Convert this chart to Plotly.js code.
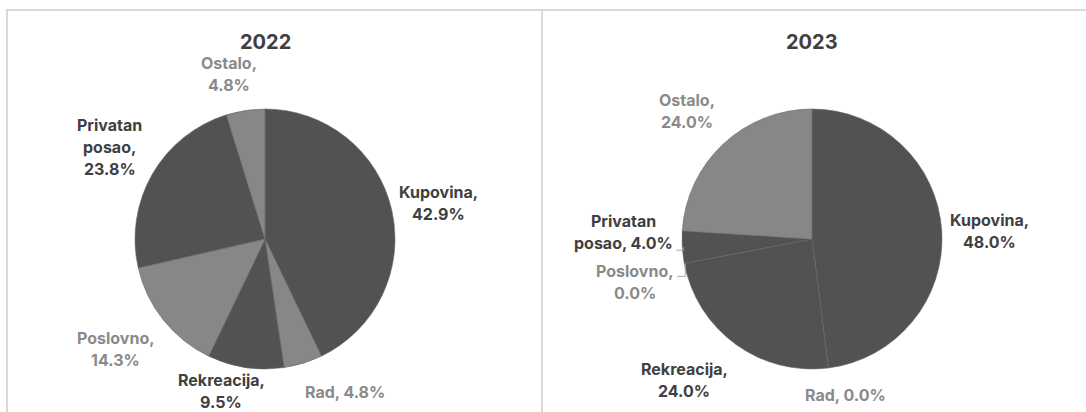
<!DOCTYPE html>
<html>
<head>
<meta charset="utf-8">
<script src="https://cdn.plot.ly/plotly-3.0.1.min.js"></script>
<style>
  html, body { margin: 0; padding: 0; background: #ffffff; }
  #chart { width: 1086px; height: 412px; }
</style>
</head>
<body>
<div id="chart"></div>
<script>
// ---------------- DATA ----------------
const categories = ['Kupovina', 'Rad', 'Rekreacija', 'Poslovno', 'Privatan posao', 'Ostalo'];
const values2022 = [42.9, 4.8, 9.5, 14.3, 23.8, 4.8];
const values2023 = [48.0, 0.0, 24.0, 0.0, 4.0, 24.0];
const titles = ['2022', '2023'];

// ---------------- LAYOUT / STYLE ----------------
const W = 1086, H = 412;
const R = 130;                       // pie radius in px
const centers = [[265, 239], [812, 239]];
const labelR = 178;                  // distance of label centre from pie centre
const LINE_H = 22;                   // label line height in px
const DARK = '#525252', LIGHT = '#878787';
const sliceColors = [DARK, LIGHT, DARK, LIGHT, DARK, LIGHT];
const labelColors = ['#404040', '#8a8a8a', '#404040', '#8a8a8a', '#404040', '#8a8a8a'];
// label text layout (line-break pattern) and small nudges (px) per panel
const nameBreak = [
  [true, false, true, true, true, true],
  [true, false, true, true, true, true]
];
const pctBreak = [
  [true, false, true, true, true, true],
  [true, false, true, true, false, true]
];
const nudges = [
  [[0, 4], [28, -17], [-17, -24], [-10, -1], [-1, -3], [-9, 11]],
  [[0, 3], [11, -21], [-23, -3], [-2, 10], [-11, -18], [-3, 2]]
];
const leaders = [
  [null, null, null, null, null, null],
  [null, null, null, {dy: -6, hw: 39}, {dy: 18, hw: 50}, null]
];
const FONT = 'Inter, "Open Sans", Arial, sans-serif';

const px = x => x / W;
const py = y => 1 - y / H;

const allValues = [values2022, values2023];
const traces = [];
const annotations = [];
const shapes = [];

allValues.forEach((vals, p) => {
  const [cx, cy] = centers[p];
  traces.push({
    type: 'pie',
    values: vals,
    labels: categories,
    sort: false,
    direction: 'clockwise',
    rotation: 0,
    textinfo: 'none',
    hoverinfo: 'label+percent',
    showlegend: false,
    marker: { colors: sliceColors, line: { color: '#6a6a6a', width: 0.6 } },
    domain: { x: [px(cx - R), px(cx + R)], y: [py(cy + R), py(cy - R)] }
  });

  annotations.push({
    xref: 'paper', yref: 'paper', x: px(cx), y: py(42),
    text: titles[p], showarrow: false,
    xanchor: 'center', yanchor: 'middle',
    font: { family: FONT, size: 20, color: '#404040', weight: 700 }
  });

  const total = vals.reduce((a, b) => a + b, 0);
  let cum = 0;
  vals.forEach((v, i) => {
    const mid = (cum + v / 2) / total;
    cum += v;
    const th = mid * 2 * Math.PI;
    const lx = cx + labelR * Math.sin(th) + nudges[p][i][0];
    const ly = cy - labelR * Math.cos(th) + nudges[p][i][1];
    let name = categories[i];
    if (nameBreak[p][i]) name = name.replace(' ', '\n');
    const txt = name + ',' + (pctBreak[p][i] ? '\n' : ' ') + v.toFixed(1) + '%';
    const lines = txt.split('\n');
    lines.forEach((ln, k) => {
      const yy = ly + (k - (lines.length - 1) / 2) * LINE_H;
      annotations.push({
        xref: 'paper', yref: 'paper', x: px(lx), y: py(yy),
        text: ln, showarrow: false,
        xanchor: 'center', yanchor: 'middle', align: 'center',
        font: { family: FONT, size: 16, color: labelColors[i], weight: 700 }
      });
    });
    const ld = leaders[p][i];
    if (ld) {
      const ex = cx + R * Math.sin(th), ey = cy - R * Math.cos(th);
      const sx = lx + ld.hw + 3, sy = ly + ld.dy;
      shapes.push({
        type: 'path', xref: 'paper', yref: 'paper',
        path: 'M ' + px(sx) + ' ' + py(sy) + ' L ' + px(ex + 1) + ' ' + py(sy) + ' L ' + px(ex + 1) + ' ' + py(ey),
        line: { color: '#a6a6a6', width: 1 }
      });
    }
  });
});

// panel borders
const border = { color: '#d9d9d9', width: 2 };
shapes.push({ type: 'line', xref: 'paper', yref: 'paper', x0: px(6), x1: px(1090), y0: py(10), y1: py(10), line: border });
shapes.push({ type: 'line', xref: 'paper', yref: 'paper', x0: px(7), x1: px(7), y0: py(10), y1: py(420), line: border });
shapes.push({ type: 'line', xref: 'paper', yref: 'paper', x0: px(542), x1: px(542), y0: py(10), y1: py(420), line: border });

const layout = {
  width: W, height: H,
  margin: { l: 0, r: 0, t: 0, b: 0 },
  paper_bgcolor: '#ffffff',
  plot_bgcolor: '#ffffff',
  font: { family: FONT },
  annotations: annotations,
  shapes: shapes
};

Plotly.newPlot('chart', traces, layout, { displayModeBar: false, staticPlot: true });
</script>
</body>
</html>
